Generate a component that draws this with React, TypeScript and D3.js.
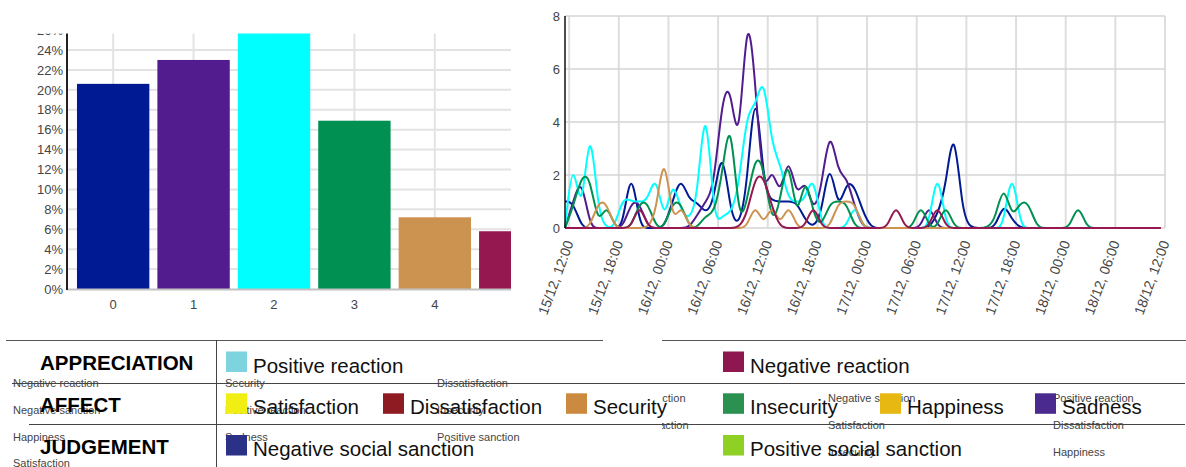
import * as d3 from "d3";
import {useEffect, useRef} from "react";

const WIDTH = 1186;
const HEIGHT = 467;
const FONT = "'Liberation Sans', Arial, Helvetica, sans-serif";

// bar chart: share of each category, in percent
const barCategories = ["0", "1", "2", "3", "4", "5"];
const barValues = [20.6, 23.0, 27.0, 16.9, 7.2, 5.8];
const barColors = ["#001a94", "#521c8f", "#00ffff", "#009052", "#cc9350", "#951850"];
const barTicks = [0, 2, 4, 6, 8, 10, 12, 14, 16, 18, 20, 22, 24, 26];

// line chart: hourly counts, first bin at 15/12 11:30
const seriesStart = new Date(2019, 11, 15, 11, 30);
const seriesEnd = new Date(2019, 11, 18, 12, 0);
const lineTicks = [0, 2, 4, 6, 8];
const series0 = [1, 1, 0, 0, 0, 0, 0, 0, 2.5, 0, 0, 0, 0, 1, 2, 1, 1, 0.5, 1, 3.3, 0.5, 0, 1.5, 6, 1.5, 1, 1, 1, 1, 0.3, 0, 0.5, 2.8, 0.5, 1.8, 1.6, 0.6, 0, 0, 0, 0, 0, 0, 0, 0, 0.5, 1.5, 4.2, 0.5, 0, 0, 0, 0, 1, 0.3, 0, 0, 0, 0, 0, 0, 0, 0, 0, 0, 0, 0, 0, 0, 0, 0, 0, 0];
const series1 = [0, 1, 2, 0, 0, 0, 0, 0, 1, 1, 0, 0, 0, 0, 0, 0, 0.5, 1, 1.5, 5, 5.5, 2.5, 8.8, 5.5, 1, 2.5, 1, 3, 1, 2, 0.5, 1.5, 4, 2, 2, 0.8, 0, 0, 0, 0, 0, 0, 0, 0, 1, 0, 0, 0, 0, 0, 0, 0, 0, 0, 0, 0, 0, 0, 0, 0, 0, 0, 0, 0, 0, 0, 0, 0, 0, 0, 0, 0, 0];
const series2 = [0, 3, 0, 4.5, 0.5, 0, 0, 1.2, 1, 1, 1, 2.2, 0, 2, 0.6, 0.3, 1, 5.5, 0, 0.5, 0.5, 1.5, 4.5, 4.5, 6, 3, 2.5, 1, 1, 1, 2.2, 0, 0, 0, 0, 1, 0, 0, 0, 0, 0, 0, 0, 0, 0, 2.5, 0, 0, 0, 0, 0, 0, 0, 0, 2.5, 0, 0, 0, 0, 0, 0, 0, 0, 0, 0, 0, 0, 0, 0, 0, 0, 0, 0];
const series3 = [0, 0.8, 2, 2, 0, 1, 0, 0, 0, 1, 1, 0, 0, 1, 1, 0, 0, 0.5, 0.5, 2, 4.6, 0, 1, 2.8, 2.4, 0, 1, 3, 0, 2.2, 0.5, 0, 1, 1, 1, 0, 0, 0, 0, 0, 0, 0, 0, 1, 0, 0, 1, 0, 0, 0, 0, 0, 0.3, 1.8, 0.3, 1, 1, 0, 0, 0, 0, 0, 1, 0, 0, 0, 0, 0, 0, 0, 0, 0, 0];
const series4 = [0, 0, 0, 0, 1, 1, 0, 0, 0, 0, 0, 0.5, 3.2, 0, 1, 0, 0, 0, 0, 0, 0, 0, 0, 1, 0, 1, 0, 1, 0, 0, 0, 0, 0, 1, 1, 1, 0, 0, 0, 0, 0, 0, 0, 0, 0, 0, 0, 0, 0, 0, 0, 0, 0, 0, 0, 0, 0, 0, 0, 0, 0, 0, 0, 0, 0, 0, 0, 0, 0, 0, 0, 0, 0];
const series5 = [0, 0, 0, 0, 0, 0, 0, 0, 0, 1, 0, 0, 0, 0, 0, 0, 0, 0, 0, 0, 0, 0, 0.5, 2, 2, 0.8, 0, 0, 0, 0, 1, 0, 0, 0, 0, 0, 0, 0, 0, 0, 1, 0, 0, 0, 0, 1, 0, 0, 0, 0, 0, 0, 0, 0, 0, 0, 0, 0, 0, 0, 0, 0, 0, 0, 0, 0, 0, 0, 0, 0, 0, 0, 0];
const lineSeries = [series0, series1, series2, series3, series4, series5];

// legend table
const legendGroups = ["APPRECIATION", "AFFECT", "JUDGEMENT"];
const appreciationLabels = ["Positive reaction", "Negative reaction"];
const appreciationColors = ["#7dd3de", "#8e174f"];
const affectLabels = ["Satisfaction", "Dissatisfaction", "Security", "Insecurity", "Happiness", "Sadness"];
const affectColors = ["#f0ee12", "#8e1b22", "#cc8a40", "#2a9150", "#e8b812", "#4a2a8f"];
const judgementLabels = ["Negative social sanction", "Positive social sanction"];
const judgementColors = ["#2a3187", "#8fd024"];

// small labels left over underneath the table
const ghostColumns = [
    ["Negative reaction", "Negative sanction", "Happiness", "Satisfaction"],
    ["Security", "Positive reaction", "Sadness"],
    ["Dissatisfaction", "Insecurity", "Positive sanction"],
    ["Positive sanction", "Negative reaction"],
    ["Negative sanction", "Satisfaction", "Insecurity"],
    ["Positive reaction", "Dissatisfaction", "Happiness"]
];

export default function App() {
    const svgRef = useRef(null);

    useEffect(() => {
        if (!svgRef.current) return;
        const svg = d3.select(svgRef.current);
        svg.selectAll("*").remove();

        const defs = svg.append("defs");
        defs.append("clipPath").attr("id", "bar-clip")
            .append("rect").attr("x", 0).attr("y", 33.5).attr("width", 511).attr("height", 300);

        // ---------- bar chart ----------
        const bx = d3.scaleBand().domain(barCategories).range([67, 561.4]).paddingInner(0.1).paddingOuter(0.124);
        const by = d3.scaleLinear().domain([0, 26]).range([289, 289 - 26 * 9.958]);
        const bar = svg.append("g").attr("clip-path", "url(#bar-clip)");

        bar.selectAll(".hgrid").data(barTicks.slice(1)).join("line")
            .attr("x1", 67).attr("x2", 561)
            .attr("y1", d => by(d)).attr("y2", d => by(d))
            .attr("stroke", "#e3e3e3").attr("stroke-width", 2);
        bar.selectAll(".vgrid").data(barCategories).join("line")
            .attr("x1", d => bx(d)! + bx.bandwidth() / 2).attr("x2", d => bx(d)! + bx.bandwidth() / 2)
            .attr("y1", by(26)).attr("y2", by(0))
            .attr("stroke", "#e3e3e3").attr("stroke-width", 2);
        bar.selectAll("rect.bar").data(barValues).join("rect")
            .attr("x", (d, i) => bx(barCategories[i])!)
            .attr("width", bx.bandwidth())
            .attr("y", d => by(d))
            .attr("height", d => by(0) - by(d))
            .attr("fill", (d, i) => barColors[i]);
        bar.append("line").attr("x1", 67).attr("x2", 561).attr("y1", 289.5).attr("y2", 289.5)
            .attr("stroke", "#c2c2c2").attr("stroke-width", 2);
        bar.append("line").attr("x1", 67).attr("x2", 67).attr("y1", by(26)).attr("y2", 290)
            .attr("stroke", "#222").attr("stroke-width", 2);
        bar.selectAll(".ylab").data(barTicks).join("text")
            .attr("x", 63).attr("y", d => by(d)).attr("dy", "0.36em")
            .attr("text-anchor", "end").attr("font-size", 13).attr("font-family", FONT).attr("fill", "#444")
            .text(d => `${d}%`);
        bar.selectAll(".xlab").data(barCategories).join("text")
            .attr("x", d => bx(d)! + bx.bandwidth() / 2).attr("y", 309)
            .attr("text-anchor", "middle").attr("font-size", 13).attr("font-family", FONT).attr("fill", "#444")
            .text(d => d);

        // ---------- line chart ----------
        const lx = d3.scaleTime().domain([seriesStart, seriesEnd]).range([565, 1165]);
        const ly = d3.scaleLinear().domain([0, 8]).range([228, 16]);
        const timeTicks = lx.ticks(d3.timeHour.every(6)!);
        const fmt = d3.timeFormat("%d/%m, %H:%M");
        const lc = svg.append("g");

        lc.selectAll(".vgrid").data(timeTicks).join("line")
            .attr("x1", d => lx(d)).attr("x2", d => lx(d))
            .attr("y1", ly(8)).attr("y2", ly(0))
            .attr("stroke", "#dedede").attr("stroke-width", 2);
        lc.selectAll(".hgrid").data(lineTicks).join("line")
            .attr("x1", 565).attr("x2", 1165)
            .attr("y1", d => ly(d)).attr("y2", d => ly(d))
            .attr("stroke", "#d4d4d4").attr("stroke-width", 1.5);

        const line = d3.line<number>()
            .x((d, i) => lx(d3.timeHour.offset(seriesStart, i)))
            .y(d => ly(d))
            .curve(d3.curveBasis);
        lc.selectAll(".series").data(lineSeries).join("path")
            .attr("d", d => line(d))
            .attr("fill", "none")
            .attr("stroke", (d, i) => barColors[i])
            .attr("stroke-width", 2);

        lc.append("line").attr("x1", 565).attr("x2", 565).attr("y1", ly(8)).attr("y2", ly(0))
            .attr("stroke", "#111").attr("stroke-width", 1.5);
        lc.selectAll(".ylab").data(lineTicks).join("text")
            .attr("x", 560).attr("y", d => ly(d)).attr("dy", "0.36em")
            .attr("text-anchor", "end").attr("font-size", 13).attr("font-family", FONT).attr("fill", "#444")
            .text(d => d);
        lc.selectAll(".xlab").data(timeTicks).join("text")
            .attr("transform", d => `translate(${lx(d)},${241}) rotate(-70)`)
            .attr("dy", "0.35em")
            .attr("text-anchor", "end").attr("font-size", 14).attr("font-family", FONT).attr("fill", "#444")
            .text(d => fmt(d));

        // ---------- legend table ----------
        const lg = svg.append("g");
        lg.append("line").attr("x1", 6).attr("x2", 1186).attr("y1", 340.5).attr("y2", 340.5)
            .attr("stroke", "#555").attr("stroke-width", 1);

        const ghostX = [13, 225, 437, 603, 828, 1053];
        const ghostY = [387, 387, 387, 402, 402, 402];
        ghostColumns.forEach((col, c) => {
            lg.selectAll(`.ghost${c}`).data(col).join("text")
                .attr("x", ghostX[c]).attr("y", (d, i) => ghostY[c] + i * 26.8)
                .attr("font-size", 11).attr("font-family", FONT).attr("fill", "#444")
                .text(d => d);
        });
        lg.append("rect").attr("x", 603).attr("y", 332).attr("width", 59).attr("height", 108).attr("fill", "#fff");

        lg.append("line").attr("x1", 12).attr("x2", 1185).attr("y1", 383.5).attr("y2", 383.5)
            .attr("stroke", "#444").attr("stroke-width", 1);
        lg.append("line").attr("x1", 29).attr("x2", 1185).attr("y1", 424.5).attr("y2", 424.5)
            .attr("stroke", "#444").attr("stroke-width", 1);
        lg.append("line").attr("x1", 216.5).attr("x2", 216.5).attr("y1", 340).attr("y2", 467)
            .attr("stroke", "#444").attr("stroke-width", 1);

        const groupBase = [369.5, 411.7, 453.5];
        lg.selectAll(".group").data(legendGroups).join("text")
            .attr("x", 40).attr("y", (d, i) => groupBase[i])
            .attr("font-size", 20.5).attr("font-weight", "bold").attr("font-family", FONT).attr("fill", "#000")
            .text(d => d);

        const colX = [226, 383, 566, 723, 880, 1035];
        const rows = [
            {labels: appreciationLabels, colors: appreciationColors, cols: [0, 3], base: 372.5},
            {labels: affectLabels, colors: affectColors, cols: [0, 1, 2, 3, 4, 5], base: 414.3},
            {labels: judgementLabels, colors: judgementColors, cols: [0, 3], base: 456}
        ];
        rows.forEach((row) => {
            const g = lg.append("g");
            g.selectAll("rect").data(row.labels).join("rect")
                .attr("x", (d, i) => colX[row.cols[i]]).attr("y", row.base - 21)
                .attr("width", 21).attr("height", 20.5)
                .attr("fill", (d, i) => row.colors[i]);
            g.selectAll("text").data(row.labels).join("text")
                .attr("x", (d, i) => colX[row.cols[i]] + 27).attr("y", row.base)
                .attr("font-size", 20.5).attr("font-family", FONT).attr("fill", "#111")
                .text(d => d);
        });
    }, []);

    return (
        <svg ref={svgRef} width={WIDTH} height={HEIGHT}
             style={{position: "absolute", left: 0, top: 0, background: "#fff"}}></svg>
    );
}
